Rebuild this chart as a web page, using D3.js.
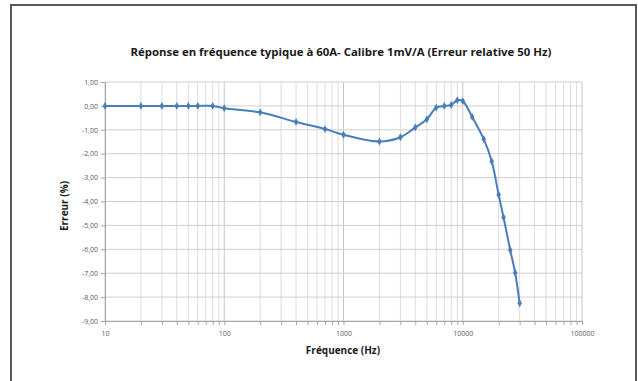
<!DOCTYPE html>
<html><head><meta charset="utf-8">
<script src="https://cdn.jsdelivr.net/npm/d3@7"></script>
<style>body{margin:0;background:#fff;}svg{display:block;}</style>
</head><body>
<svg id="c" width="638" height="381"></svg>
<script>
const frequencies = [10,20,30,40,50,60,80,100,200,400,700,1000,2000,3000,4000,5000,6000,7000,8000,9000,10000,12000,15000,17500,20000,22000,25000,27500,30000];
const errors = [0,0,0,0,0,0,0,-0.1,-0.27,-0.67,-0.97,-1.21,-1.49,-1.31,-0.9,-0.56,-0.07,0.0,0.04,0.24,0.2,-0.46,-1.39,-2.32,-3.72,-4.67,-6.03,-6.98,-8.26];
const xTicks = [10,100,1000,10000,100000];
const yTicks = [1,0,-1,-2,-3,-4,-5,-6,-7,-8,-9];
const title = "Réponse en fréquence typique à 60A- Calibre 1mV/A (Erreur relative 50 Hz)";
const xTitle = "Fréquence (Hz)";
const yTitle = "Erreur (%)";

const svg = d3.select("#c");
const L = 105, R = 582, T = 82, B = 321;
const x = d3.scaleLog().domain([10,100000]).range([L,R]);
const y = d3.scaleLinear().domain([-9,1]).range([B,T]);
const loc = d3.formatLocale({decimal:",",thousands:"",grouping:[3],currency:["",""],minus:"-"});
const fmt = loc.format(".2f");

// outer border
svg.append("rect").attr("x",11).attr("y",5).attr("width",625).attr("height",400)
  .attr("fill","#fff").attr("stroke","#595959").attr("stroke-width",2);

// minor vertical grid
const minor = [];
for (let d=10; d<100000; d*=10) for (let k=1;k<10;k++) minor.push(d*k);
minor.push(100000);
svg.append("g").selectAll("line").data(minor).join("line")
  .attr("x1",d=>x(d)).attr("x2",d=>x(d)).attr("y1",T).attr("y2",B)
  .attr("stroke",d=>xTicks.includes(d)?"#c8c8c8":"#dcdcdc").attr("stroke-width",1);
// horizontal grid
svg.append("g").selectAll("line").data(yTicks).join("line")
  .attr("x1",L).attr("x2",R).attr("y1",d=>y(d)).attr("y2",d=>y(d))
  .attr("stroke","#cfcfcf").attr("stroke-width",1);

// axes
const xAxis = d3.axisBottom(x).tickValues(minor).tickSize(4).tickFormat(d=>xTicks.includes(d)?String(d):"");
const gx = svg.append("g").attr("transform",`translate(0,${B})`).call(xAxis);
gx.select(".domain").attr("stroke","#a6a6a6");
gx.selectAll(".tick line").attr("stroke","#a6a6a6");
gx.selectAll("text").attr("fill","#595959").attr("font-size","7px").attr("font-family","Open Sans, sans-serif").attr("dy","1.2em");

const yAxis = d3.axisLeft(y).tickValues(yTicks).tickSize(4).tickFormat(fmt);
const gy = svg.append("g").attr("transform",`translate(${L},0)`).call(yAxis);
gy.select(".domain").attr("stroke","#a6a6a6");
gy.selectAll(".tick line").attr("stroke","#a6a6a6");
gy.selectAll("text").attr("fill","#595959").attr("font-size","7px").attr("font-family","Open Sans, sans-serif").attr("x",-7);

// line
const pts = frequencies.map((f,i)=>[f,errors[i]]);
const line = d3.line().x(d=>x(d[0])).y(d=>y(d[1])).curve(d3.curveCatmullRom.alpha(0.5));
svg.append("path").datum(pts).attr("d",line).attr("fill","none")
  .attr("stroke","#4a7ebb").attr("stroke-width",2);
svg.append("g").selectAll("path").data(pts).join("path")
  .attr("transform",d=>`translate(${x(d[0])},${y(d[1])})`)
  .attr("d",d3.symbol(d3.symbolDiamond,18)).attr("fill","#4a7ebb");

// titles
svg.append("text").attr("x",341).attr("y",56).attr("text-anchor","middle")
  .attr("font-family","Open Sans, sans-serif").attr("font-weight","bold").attr("font-size","11.4px")
  .attr("fill","#1a1a1a").text(title);
svg.append("text").attr("x",343).attr("y",354).attr("text-anchor","middle")
  .attr("font-family","Open Sans, sans-serif").attr("font-weight","bold").attr("font-size","10px")
  .attr("fill","#1a1a1a").text(xTitle);
svg.append("text").attr("transform","translate(68,206) rotate(-90)").attr("text-anchor","middle")
  .attr("font-family","Open Sans, sans-serif").attr("font-weight","bold").attr("font-size","10px")
  .attr("fill","#1a1a1a").text(yTitle);
</script>
</body></html>
